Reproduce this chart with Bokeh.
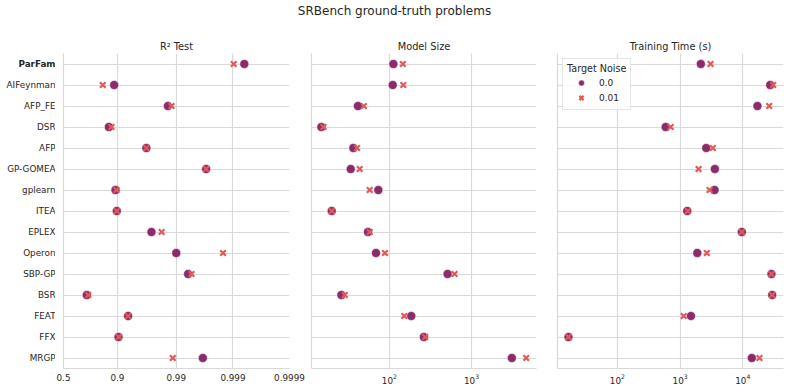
import numpy as np
from bokeh.plotting import figure
from bokeh.layouts import column, row
from bokeh.models import (Range1d, FactorRange, FixedTicker, CategoricalTicker,
                          ColumnDataSource)
from bokeh.core.properties import value
from bokeh.embed import file_html
from bokeh.resources import INLINE

# ---------------- data ----------------
methods = ["ParFam", "AIFeynman", "AFP_FE", "DSR", "AFP", "GP-GOMEA", "gplearn", "ITEA",
           "EPLEX", "Operon", "SBP-GP", "BSR", "FEAT", "FFX", "MRGP"]
highlight = ["ParFam"]

r2_noise0 = [0.99937, 0.8875, 0.986, 0.864, 0.967, 0.99702, 0.8927, 0.8977,
             0.973, 0.990, 0.9938, 0.721, 0.933, 0.904, 0.99659]
r2_noise001 = [0.99903, 0.832, 0.9879, 0.876, 0.967, 0.99702, 0.8966, 0.8977,
               0.982, 0.9985, 0.9946, 0.733, 0.933, 0.905, 0.9885]

size_noise0 = [112, 110, 41.5, 14.9, 36.5, 33.9, 73.5, 19.9, 55, 68.8, 511, 26.1, 185, 263, 3090]
size_noise001 = [146, 148, 49, 15.8, 40.5, 43.6, 57.7, 19.9, 57.7, 88.4, 621, 28.7, 152, 273, 4620]

time_noise0 = [2140, 27300, 17100, 588, 2610, 3580, 3540, 1300, 9640, 1880, 28600, 29400, 1490, 16.6, 13900]
time_noise001 = [3060, 30500, 26300, 706, 3330, 1970, 2950, 1330, 9640, 2670, 28600, 29400, 1140, 16.6, 18400]

r2_ticks = [0.5, 0.9, 0.99, 0.999, 0.9999]
r2_tick_labels = ["0.5", "0.9", "0.99", "0.999", "0.9999"]
size_ticks = [100, 1000]
time_ticks = [100, 1000, 10000]

noise_labels = ["0.0", "0.01"]
panel_titles = ["R² Test", "Model Size", "Training Time (s)"]
main_title = "SRBench ground-truth problems"


def logit10(p):
    p = np.asarray(p, dtype=float)
    return np.log10(p / (1.0 - p))

# ---------------- style ----------------
FONT = "DejaVu Sans"
TXT = "#262626"
GRID = "#d9d9d9"
C0 = "#8c2a6c"
C1 = "#e2595a"

y_factors = list(reversed(methods))
y_range = FactorRange(*y_factors, range_padding=0)
FH = 315
BT, BB = 29, 22


def style(p):
    p.outline_line_color = None
    p.background_fill_color = "white"
    p.border_fill_color = "white"
    p.title.text_font = FONT
    p.title.text_font_size = "9.8px"
    p.title.text_font_style = "normal"
    p.title.text_color = TXT
    p.title.align = "center"
    p.title.standoff = 4
    for ax in (p.xaxis[0], p.yaxis[0]):
        ax.axis_line_color = GRID
        ax.axis_line_width = 1.2
        ax.major_tick_line_color = None
        ax.minor_tick_line_color = None
        ax.major_tick_out = 0
        ax.major_tick_in = 0
        ax.major_label_text_font = FONT
        ax.major_label_text_font_size = "8.8px"
        ax.major_label_text_color = TXT
    p.xaxis.major_label_standoff = 5
    # y axis: spine only (method names are drawn in the label strip)
    p.yaxis.ticker = FixedTicker(ticks=[])
    p.yaxis.major_label_standoff = 0
    p.ygrid.ticker = CategoricalTicker()
    p.xgrid.grid_line_color = GRID
    p.ygrid.grid_line_color = GRID
    p.xgrid.grid_line_width = 1.2
    p.ygrid.grid_line_width = 1.2


def add_points(p, v0, v1, legend):
    src = ColumnDataSource(dict(m=methods, v0=v0, v1=v1))
    kw0 = dict(legend_label=noise_labels[0]) if legend else {}
    kw1 = dict(legend_label=noise_labels[1]) if legend else {}
    p.scatter("v0", "m", source=src, marker="circle", size=9, fill_color=C0,
              line_color="white", line_width=0.5, **kw0)
    p.scatter("v1", "m", source=src, marker="x", size=8, line_color=C1,
              line_width=2.2, **kw1)


# title figure
pt = figure(width=788, height=24, x_axis_location=None, y_axis_location=None,
            toolbar_location=None, output_backend="svg", min_border=0,
            title=main_title)
pt.outline_line_color = None
pt.grid.visible = False
pt.title.align = "center"
pt.title.text_font = FONT
pt.title.text_font_size = "12px"
pt.title.text_font_style = "normal"
pt.title.text_color = TXT
pt.title.standoff = 2

common = dict(toolbar_location=None, output_backend="svg", frame_height=FH,
              min_border_top=BT, min_border_bottom=BB)

# label strip: method names (y tick labels), ParFam in bold
pl = figure(frame_width=55, y_range=y_range, x_range=Range1d(0, 1),
            x_axis_location=None, y_axis_location=None,
            min_border_left=0, min_border_right=0, **common)
pl.outline_line_color = None
pl.grid.visible = False
lab_src = ColumnDataSource(dict(m=methods,
                                style=["bold" if m in highlight else "normal" for m in methods]))
pl.text(x=1, y="m", text="m", source=lab_src, text_align="right", text_baseline="middle",
        text_font=value(FONT), text_font_size="8.8px", text_font_style="style",
        text_color=TXT)

# panel 1: R2 (logit scale)
r2_lo, r2_hi = float(logit10(r2_ticks[0])), float(logit10(r2_ticks[-1]))
p1 = figure(frame_width=226, y_range=y_range,
            x_range=Range1d(r2_lo, r2_hi), title=panel_titles[0],
            min_border_left=8, min_border_right=16, **common)
style(p1)
p1.xaxis.ticker = FixedTicker(ticks=[float(t) for t in logit10(r2_ticks)])
p1.xaxis.major_label_overrides = {float(t): l for t, l in zip(logit10(r2_ticks), r2_tick_labels)}
add_points(p1, list(logit10(r2_noise0)), list(logit10(r2_noise001)), False)

# panel 2: model size (log)
p2 = figure(frame_width=225, y_range=y_range, x_axis_type="log",
            x_range=Range1d(11.3, 6170), title=panel_titles[1],
            min_border_left=6, min_border_right=9, **common)
style(p2)
p2.xaxis.ticker = FixedTicker(ticks=size_ticks)
add_points(p2, size_noise0, size_noise001, False)

# panel 3: training time (log)
p3 = figure(frame_width=226, y_range=y_range, x_axis_type="log",
            x_range=Range1d(11.1, 44500), title=panel_titles[2],
            min_border_left=12, min_border_right=5, **common)
style(p3)
p3.xaxis.ticker = FixedTicker(ticks=time_ticks)
add_points(p3, time_noise0, time_noise001, True)

lg = p3.legend[0]
lg.location = "top_left"
lg.title = "Target Noise"
lg.title_text_font = FONT
lg.title_text_font_size = "9.6px"
lg.title_text_font_style = "normal"
lg.title_text_color = TXT
lg.title_standoff = 1
lg.label_text_font = FONT
lg.label_text_font_size = "9px"
lg.label_text_color = TXT
lg.glyph_width = 28
lg.glyph_height = 15
lg.label_height = 13
lg.label_standoff = 4
lg.spacing = 0
lg.padding = 4
lg.margin = 5
lg.border_line_color = "#cccccc"
lg.background_fill_alpha = 0.85

layout = column(pt, row(pl, p1, p2, p3))

open("out.html", "w").write(file_html(layout, INLINE))
